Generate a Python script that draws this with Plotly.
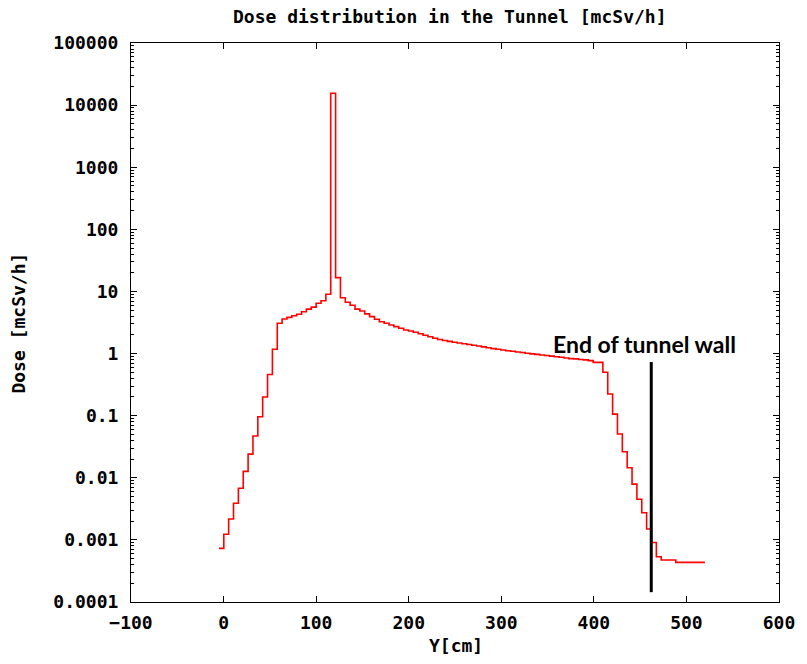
import plotly.graph_objects as go

# Bin edges along the tunnel axis [cm] (100 bins, 101 edges)
bin_edges = [
    -5.0, 0.25, 5.5, 10.75, 16.0, 21.25, 26.5, 31.75, 37.0, 42.25,
    47.5, 52.75, 58.0, 63.25, 68.5, 73.75, 79.0, 84.25, 89.5, 94.75,
    100.0, 105.25, 110.5, 115.75, 121.0, 126.25, 131.5, 136.75, 142.0, 147.25,
    152.5, 157.75, 163.0, 168.25, 173.5, 178.75, 184.0, 189.25, 194.5, 199.75,
    205.0, 210.25, 215.5, 220.75, 226.0, 231.25, 236.5, 241.75, 247.0, 252.25,
    257.5, 262.75, 268.0, 273.25, 278.5, 283.75, 289.0, 294.25, 299.5, 304.75,
    310.0, 315.25, 320.5, 325.75, 331.0, 336.25, 341.5, 346.75, 352.0, 357.25,
    362.5, 367.75, 373.0, 378.25, 383.5, 388.75, 394.0, 399.25, 404.5, 409.75,
    415.0, 420.25, 425.5, 430.75, 436.0, 441.25, 446.5, 451.75, 457.0, 462.25,
    467.5, 472.75, 478.0, 483.25, 488.5, 493.75, 499.0, 504.25, 509.5, 514.75,
    520.0,
]

# Dose rate per bin [mcSv/h]
dose_rising = [
    0.00073, 0.00123, 0.00217, 0.00388, 0.0068, 0.0127, 0.024, 0.047, 0.096, 0.20,
    0.46, 1.17, 3.07, 3.6, 3.83, 4.07, 4.3, 4.7, 5.2, 5.6,
    6.45, 7.1, 9.0,
]
dose_source = [15500.0]
dose_tunnel = [
    16.7, 7.9, 6.7, 6.0, 5.2, 4.85, 4.35, 3.93, 3.56, 3.26,
    3.07, 2.88, 2.71, 2.55, 2.39, 2.31, 2.20, 2.08, 1.97, 1.86,
    1.76, 1.68, 1.62, 1.57, 1.52, 1.48, 1.44, 1.40, 1.36, 1.32,
    1.28, 1.24, 1.20, 1.17, 1.14, 1.11, 1.09, 1.06, 1.04, 1.01,
    0.99, 0.97, 0.95, 0.93, 0.91, 0.89, 0.87, 0.85, 0.83, 0.82,
    0.80, 0.79, 0.77, 0.72, 0.72,
]
dose_wall = [
    0.50, 0.223, 0.106, 0.0507, 0.0263, 0.0145, 0.0079, 0.0045, 0.00274, 0.0015,
    0.00091, 0.000536, 0.000474, 0.000474, 0.000474, 0.000435, 0.000435, 0.000435,
    0.000435, 0.000435, 0.000435,
]
dose = dose_rising + dose_source + dose_tunnel + dose_wall

# Marker for the end of the tunnel wall
wall_y_cm = 462
wall_dose_range = [0.000144, 0.73]
wall_label = "End of tunnel wall"

y_tick_vals = [1e-4, 1e-3, 1e-2, 1e-1, 1, 10, 100, 1000, 10000, 100000]
y_tick_text = ["0.0001", "0.001", "0.01", "0.1", "1", "10", "100", "1000", "10000", "100000"]
x_tick_vals = [-100, 0, 100, 200, 300, 400, 500, 600]

MONO = "DejaVu Sans Mono"
FS = 18

fig = go.Figure()
fig.add_trace(go.Scatter(
    x=bin_edges,
    y=dose + [dose[-1]],
    mode="lines",
    line=dict(color="#ff0000", width=1.6, shape="hv"),
    showlegend=False,
))

fig.add_shape(
    type="line", xref="x", yref="y",
    x0=wall_y_cm, x1=wall_y_cm, y0=wall_dose_range[0], y1=wall_dose_range[1],
    line=dict(color="black", width=3),
)

fig.update_layout(
    width=807, height=664,
    margin=dict(l=131, r=25, t=43, b=62),
    paper_bgcolor="white", plot_bgcolor="white",
    font=dict(family=MONO, size=FS, color="black", weight="bold"),
    xaxis=dict(
        range=[-100, 600], tickvals=x_tick_vals,
        ticks="inside", ticklen=6, tickcolor="black", tickwidth=1,
        showline=True, linecolor="black", linewidth=1, mirror="ticks",
        showgrid=False, zeroline=False, ticklabelstandoff=4,
        tickfont=dict(family=MONO, size=FS, weight="bold"),
    ),
    yaxis=dict(
        type="log", range=[-4, 5], tickvals=y_tick_vals, ticktext=y_tick_text,
        ticks="inside", ticklen=6, tickcolor="black", tickwidth=1,
        showline=True, linecolor="black", linewidth=1, mirror="ticks",
        showgrid=False, zeroline=False, ticklabelstandoff=8,
        tickfont=dict(family=MONO, size=FS, weight="bold"),
        minor=dict(ticks="inside", ticklen=3, tickcolor="black", dtick="D1"),
    ),
    annotations=[
        dict(text="Dose distribution in the Tunnel [mcSv/h]", xref="paper", yref="paper",
             x=0.4916, y=1.048, showarrow=False, xanchor="center", yanchor="middle",
             font=dict(family=MONO, size=FS, weight="bold")),
        dict(text="Y[cm]", xref="paper", yref="paper",
             x=0.5008, y=-0.0787, showarrow=False, xanchor="center", yanchor="middle",
             font=dict(family=MONO, size=FS, weight="bold")),
        dict(text="Dose [mcSv/h]", xref="paper", yref="paper", textangle=-90,
             x=-0.1736, y=0.499, showarrow=False, xanchor="center", yanchor="middle",
             font=dict(family=MONO, size=FS, weight="bold")),
        dict(text=wall_label, xref="paper", yref="paper",
             x=(647 - 131) / 651, y=(602 - 344) / 559, showarrow=False,
             xanchor="center", yanchor="middle",
             font=dict(family="Lato", size=23, weight="bold", color="black")),
    ],
)

fig.write_html("out.html")
